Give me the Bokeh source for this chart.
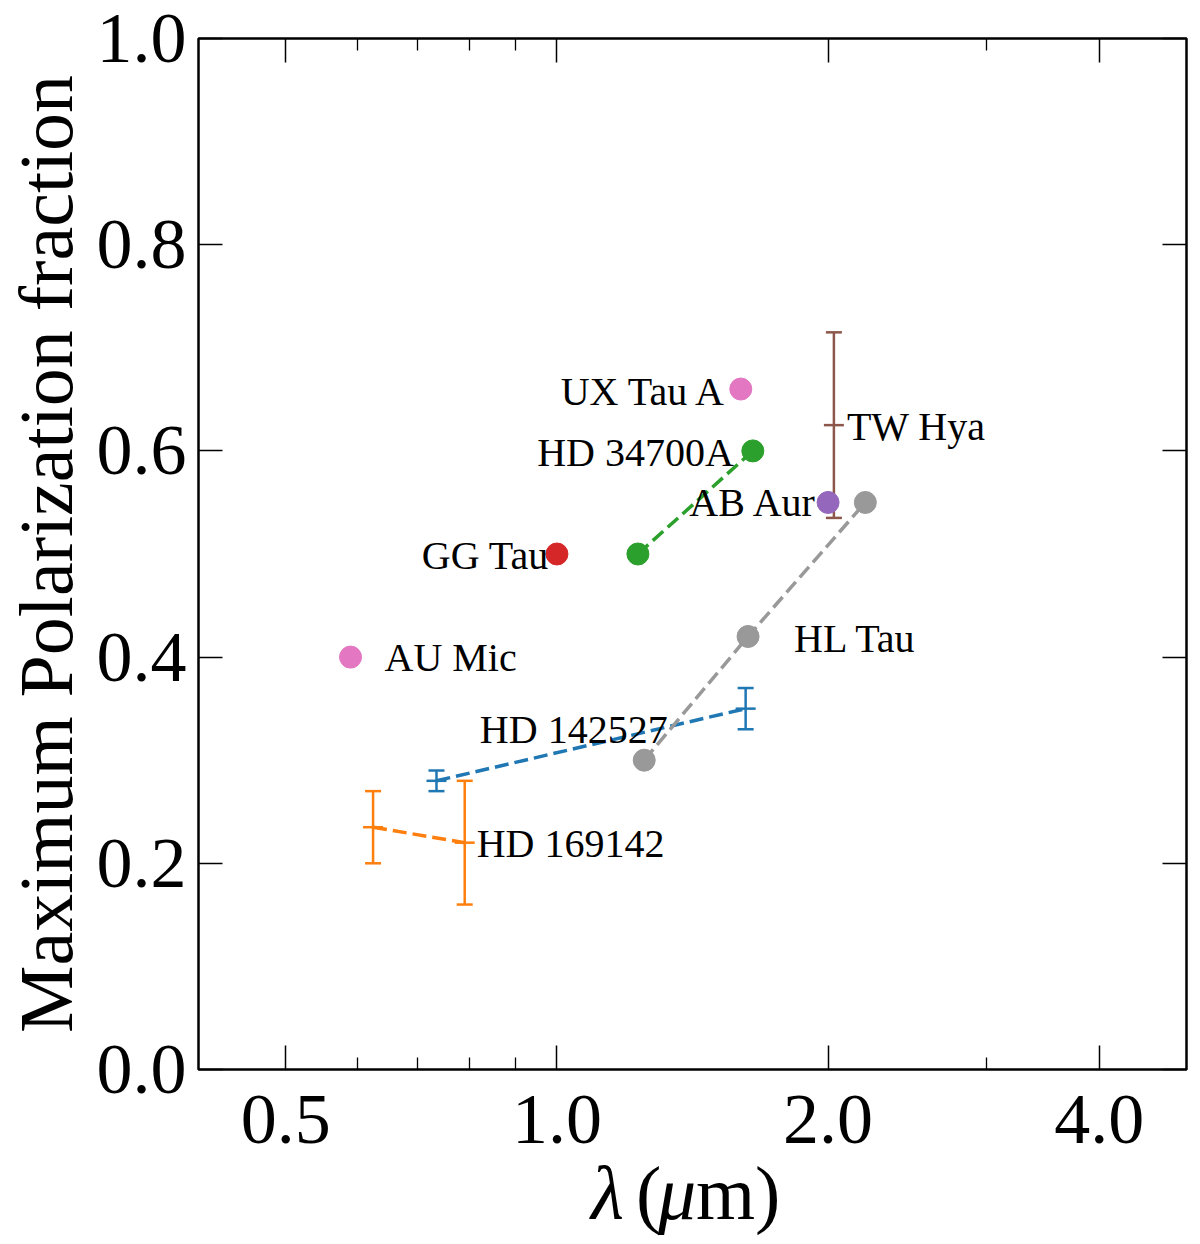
from bokeh.plotting import figure
from bokeh.layouts import column
from bokeh.models import (ColumnDataSource, Whisker, TeeHead, FixedTicker,
                          NumeralTickFormatter, LogAxis, LinearAxis, Range1d,
                          CustomJSTickFormatter)
from bokeh.core.properties import value
from bokeh.embed import file_html
from bokeh.resources import INLINE

# ---------------- data ----------------
# single points
AU_MIC_X = [0.59]
AU_MIC_Y = [0.40]
GG_TAU_X = [1.0]
GG_TAU_Y = [0.50]
UX_TAU_X = [1.6]
UX_TAU_Y = [0.66]
AB_AUR_X = [2.0]
AB_AUR_Y = [0.55]
# connected series
HD34700_X = [1.23, 1.65]
HD34700_Y = [0.50, 0.60]
HL_TAU_X = [1.25, 1.63, 2.2]
HL_TAU_Y = [0.30, 0.42, 0.55]
# series with error bars
HD142527_X = [0.735, 1.62]
HD142527_Y = [0.28, 0.35]
HD142527_ERR = [0.01, 0.02]
HD169142_X = [0.625, 0.79]
HD169142_Y = [0.235, 0.22]
HD169142_ERR = [0.035, 0.06]
TW_HYA_X = [2.03]
TW_HYA_Y = [0.625]
TW_HYA_ERR = [0.09]

X_TICKS = [0.5, 1.0, 2.0, 4.0]
X_MINOR = [0.6, 0.7, 0.8, 0.9, 3.0]
Y_TICKS = [0.0, 0.2, 0.4, 0.6, 0.8, 1.0]

Y_TITLE = "Maximum Polarization fraction"
X_TITLE_PARTS = ["λ", "(", "μ", "m)"]
X_TITLE_STYLES = ["italic", "normal", "italic", "normal"]

C_BLUE = "#1f77b4"
C_ORANGE = "#ff7f0e"
C_GREEN = "#2ca02c"
C_RED = "#d62728"
C_PURPLE = "#9467bd"
C_BROWN = "#8c564b"
C_PINK = "#e377c2"
C_GREY = "#999999"

FONT = "Liberation Serif"
W = 1198
BL, BR = 197, 12

p = figure(width=W, height=1164, x_axis_type="log",
           x_range=Range1d(0.4, 5.0), y_range=Range1d(0.0, 1.0),
           output_backend="svg", toolbar_location=None,
           min_border_left=BL, min_border_right=BR,
           min_border_top=38, min_border_bottom=95)
p.grid.visible = False
p.background_fill_color = "white"
p.border_fill_color = "white"
p.outline_line_color = "black"
p.outline_line_width = 2.5

def style_axis(ax, show_labels, minor):
    ax.axis_line_color = None
    ax.major_tick_in = 24
    ax.major_tick_out = 0
    ax.major_tick_line_width = 1.5
    ax.major_tick_line_color = "black"
    if minor:
        ax.minor_tick_in = 12
        ax.minor_tick_out = 0
        ax.minor_tick_line_width = 1.3
        ax.minor_tick_line_color = "black"
    else:
        ax.minor_tick_line_color = None
    if show_labels:
        ax.major_label_text_font = FONT
        ax.major_label_text_font_size = "72px"
        ax.major_label_text_color = "black"
        ax.major_label_standoff = 12
    else:
        ax.formatter = CustomJSTickFormatter(code="return ''")
        ax.major_label_standoff = 0

p.xaxis.ticker = FixedTicker(ticks=X_TICKS, minor_ticks=X_MINOR)
p.xaxis.formatter = NumeralTickFormatter(format="0.0")
p.yaxis.ticker = FixedTicker(ticks=Y_TICKS)
p.yaxis.formatter = NumeralTickFormatter(format="0.0")
style_axis(p.xaxis[0], True, True)
style_axis(p.yaxis[0], True, False)
p.xaxis.major_label_standoff = 26

p.yaxis.axis_label = Y_TITLE
p.yaxis.axis_label_text_font = FONT
p.yaxis.axis_label_text_font_size = "76px"
p.yaxis.axis_label_text_font_style = "normal"
p.yaxis.axis_label_text_color = "black"
p.yaxis.axis_label_standoff = 6

top = LogAxis(ticker=FixedTicker(ticks=X_TICKS, minor_ticks=X_MINOR))
style_axis(top, False, True)
p.add_layout(top, "above")
right = LinearAxis(ticker=FixedTicker(ticks=Y_TICKS))
style_axis(right, False, False)
p.add_layout(right, "right")

DASH = "14 6"
LW = 3.5

# dashed connecting lines
p.line(HD169142_X, HD169142_Y, line_color=C_ORANGE, line_width=LW, line_dash=DASH)
p.line(HD142527_X, HD142527_Y, line_color=C_BLUE, line_width=LW, line_dash=DASH)
p.line(HL_TAU_X, HL_TAU_Y, line_color=C_GREY, line_width=LW, line_dash=DASH)
p.line(HD34700_X, HD34700_Y, line_color=C_GREEN, line_width=LW, line_dash=DASH)

# error bars
def errbar(xs, ys, errs, color):
    src = ColumnDataSource(dict(x=xs, y=ys,
                                lo=[y - e for y, e in zip(ys, errs)],
                                hi=[y + e for y, e in zip(ys, errs)]))
    w = Whisker(base="x", lower="lo", upper="hi", source=src, dimension="height",
                line_color=color, line_width=2.5,
                upper_head=TeeHead(size=16, line_color=color, line_width=2.5),
                lower_head=TeeHead(size=16, line_color=color, line_width=2.5))
    p.add_layout(w)
    p.scatter("x", "y", source=src, marker="dash", size=20, line_color=color,
              line_width=2.5)

errbar(HD169142_X, HD169142_Y, HD169142_ERR, C_ORANGE)
errbar(HD142527_X, HD142527_Y, HD142527_ERR, C_BLUE)
errbar(TW_HYA_X, TW_HYA_Y, TW_HYA_ERR, C_BROWN)

# points
PT = 22
p.scatter(HD34700_X, HD34700_Y, size=PT, color=C_GREEN)
p.scatter(HL_TAU_X, HL_TAU_Y, size=PT, color=C_GREY)
p.scatter(AU_MIC_X, AU_MIC_Y, size=PT, color=C_PINK)
p.scatter(UX_TAU_X, UX_TAU_Y, size=PT, color=C_PINK)
p.scatter(GG_TAU_X, GG_TAU_Y, size=PT, color=C_RED)
p.scatter(AB_AUR_X, AB_AUR_Y, size=PT, color=C_PURPLE)

# object labels, anchored to a data point with pixel offsets
right_lbl = dict(
    text=["UX Tau A", "HD 34700A", "AB Aur", "GG Tau", "HD 142527"],
    x=[UX_TAU_X[0], HD34700_X[1], AB_AUR_X[0], GG_TAU_X[0], HD142527_X[1]],
    y=[UX_TAU_Y[0], HD34700_Y[1], AB_AUR_Y[0], GG_TAU_Y[0], HD142527_Y[1]],
    dx=[-14, -19, -11, -8, -78],
    dy=[2, 2, 0, 1, 21],
)
left_lbl = dict(
    text=["TW Hya", "AU Mic", "HL Tau", "HD 169142"],
    x=[TW_HYA_X[0], AU_MIC_X[0], HL_TAU_X[1], HD169142_X[1]],
    y=[TW_HYA_Y[0], AU_MIC_Y[0], HL_TAU_Y[1], HD169142_Y[1]],
    dx=[13, 34, 46, 12],
    dy=[1, 0, 2, 1],
)
p.text("x", "y", text="text", source=ColumnDataSource(right_lbl),
       x_offset="dx", y_offset="dy", text_align="right",
       text_baseline="alphabetic", text_font=value(FONT),
       text_font_size="40px", text_color="black")
p.text("x", "y", text="text", source=ColumnDataSource(left_lbl),
       x_offset="dx", y_offset="dy", text_align="left",
       text_baseline="alphabetic", text_font=value(FONT),
       text_font_size="40px", text_color="black")

# x-axis title strip (mixed italic / upright pieces), in page-pixel space
H2 = 80
p2 = figure(width=W, height=H2, title=None,
            x_range=Range1d(BL, W - BR), y_range=Range1d(0, H2),
            output_backend="svg", toolbar_location=None,
            min_border_left=BL, min_border_right=BR,
            min_border_top=0, min_border_bottom=0,
            x_axis_location=None, y_axis_location=None)
p2.grid.visible = False
p2.outline_line_color = None
p2.background_fill_color = "white"
p2.border_fill_color = "white"
part_x = [590, 635, 657, 695]
for txt, style, xx in zip(X_TITLE_PARTS, X_TITLE_STYLES, part_x):
    p2.text(x=[xx], y=[52], text=[txt], text_align="left",
            text_baseline="alphabetic", text_font=value(FONT),
            text_font_size="76px", text_font_style=style, text_color="black")

layout = column(p, p2, spacing=0)
open("out.html", "w").write(file_html(layout, INLINE))
